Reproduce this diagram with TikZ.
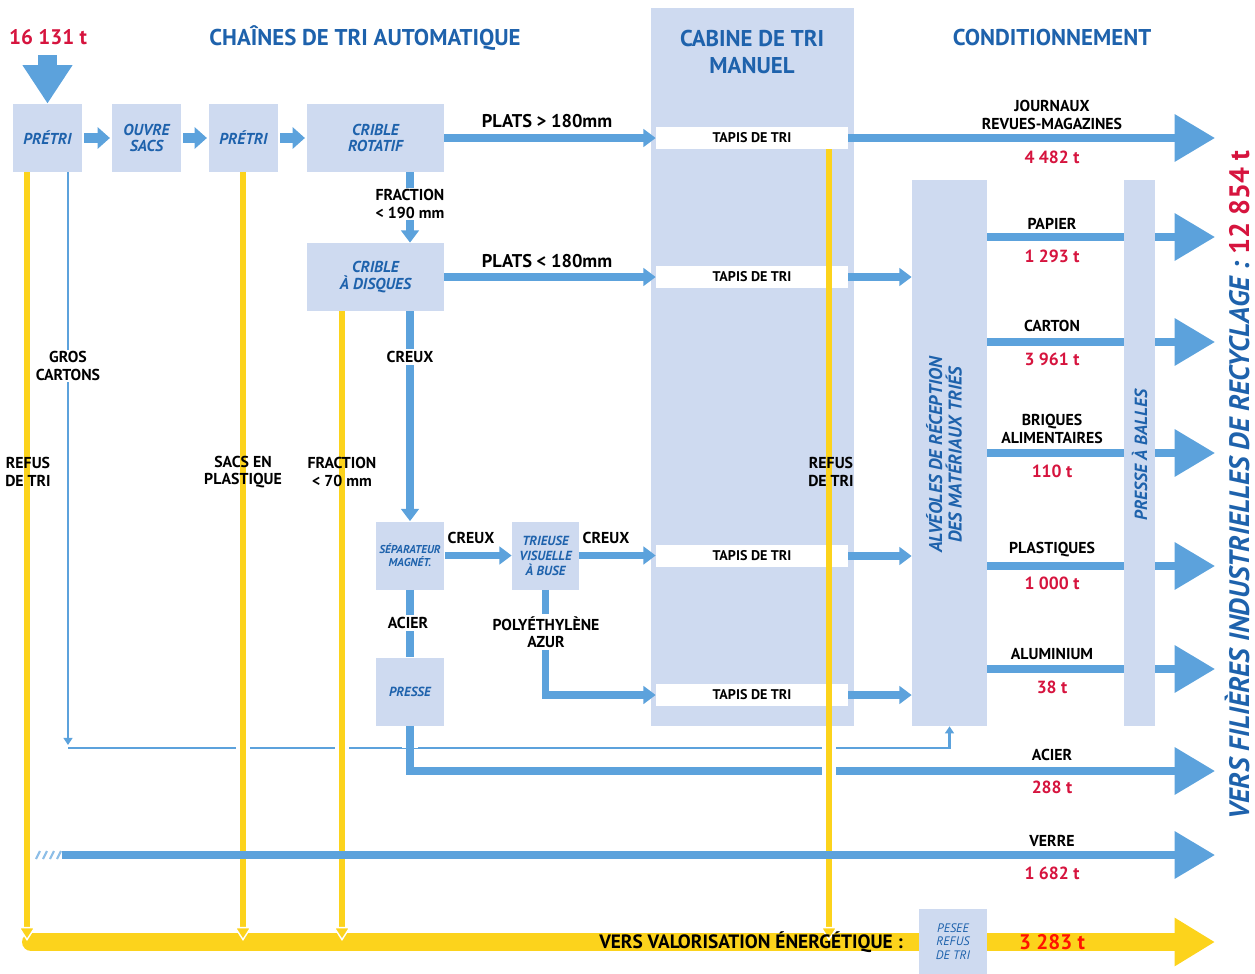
\documentclass[tikz,border=0pt]{standalone}
\usepackage{fontspec}
\setmainfont{PT Sans}
\usepackage{xcolor}
\usepackage{tikz}
\usetikzlibrary{arrows.meta,positioning}

\definecolor{boxblue}{RGB}{206,218,240}
\definecolor{flowblue}{RGB}{92,162,220}
\definecolor{textblue}{RGB}{30,98,172}
\definecolor{qtyred}{RGB}{214,20,62}
\definecolor{refusyellow}{RGB}{252,211,28}

\begin{document}
\begin{tikzpicture}[x=0.02cm, y=-0.02cm,
    box/.style={fill=boxblue, inner sep=1pt, text=textblue, align=center, font=\bfseries\itshape\fontsize{9}{9.5}\selectfont},
    smallbox/.style={box, minimum width=1.38cm, minimum height=1.36cm},
    widebox/.style={box, minimum width=2.74cm, minimum height=1.36cm},
    tapis/.style={fill=white, minimum width=3.84cm, minimum height=0.44cm, inner sep=0pt, font=\bfseries\fontsize{8}{9}\selectfont},
    lbl/.style={font=\bfseries\fontsize{9}{10}\selectfont, align=center, inner sep=1pt},
    cut/.style={lbl, fill=white},
    qty/.style={font=\bfseries\fontsize{10}{11}\selectfont, text=qtyred},
    head/.style={font=\bfseries\fontsize{13}{15}\selectfont, text=textblue, align=center},
    blockflow/.style={draw=flowblue, line width=5.5pt, -{Triangle[width=12pt,length=7pt]}, shorten <=1pt, shorten >=1pt},
    flow/.style={draw=flowblue, line width=4pt, -{Triangle[width=10pt,length=7pt]}},
    flowline/.style={draw=flowblue, line width=4.5pt},
    bigflow/.style={draw=flowblue, line width=4.5pt, -{Triangle[width=26pt,length=23pt]}},
    thinflow/.style={draw=flowblue, line width=1.6pt, -{Triangle[width=5pt,length=4pt]}},
    refus/.style={draw=refusyellow, line width=3.4pt, -{Triangle[width=10pt,length=8pt,color=white,fill=refusyellow,line width=0.8pt]}},
    casing/.style={draw=white, line width=7.5pt},
]
    \useasboundingbox (0,0) rectangle (1255,974);

    % Headers
    \node[font=\bfseries\fontsize{12}{14}\selectfont, text=qtyred] (entree) at (48,37) {16 131 t};
    \node[head] (chaines) at (365,38) {CHAÎNES DE TRI AUTOMATIQUE};
    \node[head] (condit) at (1052,38) {CONDITIONNEMENT};

    % Cabine
    \node[fill=boxblue, minimum width=4.06cm, minimum height=14.36cm, inner sep=0pt] (cabine) at (752.5,367) {};
    \node[head] (cabinetitle) at (752,52) {CABINE DE TRI\\MANUEL};
    \node[tapis] (tapis1) at (752,138) {TAPIS DE TRI};
    \node[tapis] (tapis2) at (752,277) {TAPIS DE TRI};
    \node[tapis] (tapis3) at (752,556) {TAPIS DE TRI};
    \node[tapis] (tapis4) at (752,695) {TAPIS DE TRI};

    % Chaines de tri
    \node[smallbox] (pretri1) at (47.5,138) {PRÉTRI};
    \node[smallbox] (ouvre) at (146.5,138) {OUVRE\\SACS};
    \node[smallbox] (pretri2) at (243.5,138) {PRÉTRI};
    \node[widebox] (rotatif) at (375.5,138) {CRIBLE\\ROTATIF};
    \node[widebox] (disques) at (375.5,277) {CRIBLE\\À DISQUES};
    \node[smallbox, font=\bfseries\itshape\fontsize{6.5}{7.5}\selectfont] (separ) at (410,555.5) {SÉPARATEUR\\MAGNÉT.};
    \node[smallbox, minimum width=1.34cm, font=\bfseries\itshape\fontsize{7.5}{8.5}\selectfont] (trieuse) at (545.5,555.5) {TRIEUSE\\VISUELLE\\À BUSE};
    \node[smallbox, font=\bfseries\itshape\fontsize{7.5}{8.5}\selectfont] (presse) at (410,691.5) {PRESSE};

    % Conditionnement
    \node[fill=boxblue, minimum width=1.5cm, minimum height=10.92cm, inner sep=0pt] (alveoles) at (949.5,453) {};
    \node[rotate=90, font=\bfseries\itshape\fontsize{10.5}{11}\selectfont, text=textblue, align=center] (alvtext) at (944,455) {ALVÉOLES DE RÉCEPTION\\DES MATÉRIAUX TRIÉS};
    \node[fill=boxblue, minimum width=0.62cm, minimum height=10.92cm, inner sep=0pt] (balles) at (1139.5,453) {};
    \node[rotate=90, font=\bfseries\itshape\fontsize{10}{11}\selectfont, text=textblue] (ballestext) at (1139.5,455) {PRESSE À BALLES};

    % Entree
    \coordinate (instart) at (47.5,55);
    \draw[draw=flowblue, line width=11pt, -{Triangle[width=27pt,length=22pt]}] (instart) -- (pretri1.north);

    % Arrows of the chains
    \draw[blockflow] (pretri1) -- (ouvre);
    \draw[blockflow] (ouvre) -- (pretri2);
    \draw[blockflow] (pretri2) -- (rotatif);
    \draw[flow] (rotatif.east) -- (tapis1.west);
    \node[lbl, font=\bfseries\fontsize{10.5}{12}\selectfont] (plats1) at (547,121) {PLATS > 180mm};
    \draw[flow] (rotatif.south -| separ.north) -- (disques.north -| separ.north);
    \node[cut] (fr190) at (410,204) {FRACTION\\< 190 mm};
    \draw[flow] (disques.east) -- (tapis2.west);
    \node[lbl, font=\bfseries\fontsize{10.5}{12}\selectfont] (plats2) at (547,261) {PLATS < 180mm};
    \draw[flow] (disques.south -| separ.north) -- (separ.north);
    \node[cut] (creux1) at (410,357) {CREUX};
    \draw[flow] (separ.east) -- (trieuse.west);
    \node[lbl] (creux2) at (471,538) {CREUX};
    \draw[flow] (trieuse.east) -- (trieuse.east -| tapis3.west);
    \node[lbl] (creux3) at (606,538) {CREUX};
    \draw[flowline] (separ.south) -- (presse.north);
    \node[cut] (acier1) at (408,623) {ACIER};
    \draw[flow] (trieuse.south) -- (trieuse.south |- tapis4.west) -- (tapis4.west);
    \node[cut] (polyeth) at (546,632) {POLYÉTHYLÈNE\\AZUR};

    % Cabine to alveoles
    \draw[flow] (tapis2.east) -- (alveoles.west |- tapis2.east);
    \draw[flow] (tapis3.east) -- (alveoles.west |- tapis3.east);
    \draw[flow] (tapis4.east) -- (alveoles.west |- tapis4.east);

    % Journaux
    \coordinate (jrnend) at (1215,138);
    \draw[bigflow] (tapis1.east) -- (jrnend);
    \node[lbl] (journaux) at (1052,115) {JOURNAUX\\REVUES-MAGAZINES};
    \node[qty] (journauxqty) at (1052,157) {4 482 t};

    % Papier
    \coordinate (papend) at (1215,237);
    \draw[flowline] (alveoles.east |- papend) -- (balles.west |- papend);
    \draw[bigflow] (balles.east |- papend) -- (papend);
    \node[lbl] (papier) at (1052,224) {PAPIER};
    \node[qty] (papierqty) at (1052,256) {1 293 t};

    % Carton
    \coordinate (carend) at (1215,342);
    \draw[flowline] (alveoles.east |- carend) -- (balles.west |- carend);
    \draw[bigflow] (balles.east |- carend) -- (carend);
    \node[lbl] (carton) at (1052,326) {CARTON};
    \node[qty] (cartonqty) at (1052,359) {3 961 t};

    % Briques
    \coordinate (briend) at (1215,453);
    \draw[flowline] (alveoles.east |- briend) -- (balles.west |- briend);
    \draw[bigflow] (balles.east |- briend) -- (briend);
    \node[lbl] (briques) at (1052,429) {BRIQUES\\ALIMENTAIRES};
    \node[qty] (briquesqty) at (1052,471) {110 t};

    % Plastiques
    \coordinate (plaend) at (1215,566);
    \draw[flowline] (alveoles.east |- plaend) -- (balles.west |- plaend);
    \draw[bigflow] (balles.east |- plaend) -- (plaend);
    \node[lbl] (plastiques) at (1052,550) {PLASTIQUES};
    \node[qty] (plastiquesqty) at (1052,583) {1 000 t};

    % Aluminium
    \coordinate (aluend) at (1215,669);
    \draw[flowline] (alveoles.east |- aluend) -- (balles.west |- aluend);
    \draw[bigflow] (balles.east |- aluend) -- (aluend);
    \node[lbl] (alu) at (1052,654) {ALUMINIUM};
    \node[qty] (aluqty) at (1052,687) {38 t};

    % Gros cartons
    \coordinate (gc) at (68,745);
    \coordinate (gcturn) at (68,748);
    \draw[thinflow] (pretri1.south -| gc) -- (gc);
    \draw[thinflow] (gcturn) -- (gcturn -| alveoles.south) -- (alveoles.south);
    \node[cut] (groscartons) at (68,366) {GROS\\CARTONS};

    % Acier
    \coordinate (acierend) at (1215,771);
    \draw[casing, line width=9pt] (presse.south) -- (presse.south |- gcturn);
    \draw[bigflow] (presse.south) -- (presse.south |- acierend) -- (acierend);
    \node[lbl] (acier2) at (1052,755) {ACIER};
    \node[qty] (acierqty) at (1052,787) {288 t};

    % Refus de tri
    \coordinate (y1) at (27,941);
    \coordinate (y2) at (243,941);
    \coordinate (y3) at (342,941);
    \coordinate (y4) at (829,941);
    \draw[casing] (243,738) -- (243,758);
    \draw[casing] (342,738) -- (342,758);
    \draw[casing] (829,738) -- (829,782);
    \coordinate (barstart) at (31,942);
    \coordinate (barend) at (1215,942);
    \draw[draw=refusyellow, line width=10.2pt, line cap=round, -{Triangle[width=26pt,length=23pt]}] (barstart) -- (barend);
    \draw[refus] (pretri1.south -| y1) -- (y1);
    \draw[refus] (pretri2.south -| y2) -- (y2);
    \draw[refus] (disques.south -| y3) -- (y3);
    \draw[refus] (tapis1.south -| y4) -- (y4);
    \node[lbl] (refus1) at (28,472) {REFUS\\DE TRI};
    \node[lbl] (sacs) at (243,472) {SACS EN\\PLASTIQUE};
    \node[lbl] (fr70) at (342,472) {FRACTION\\< 70 mm};
    \node[lbl] (refus2) at (831,472) {REFUS\\DE TRI};

    % Verre
    \coordinate (verrestart) at (62,855);
    \coordinate (verreend) at (1215,855);
    \draw[flowblue!70, line width=1.2pt] (36,859) -- (40,851) (43,859) -- (47,851) (50,859) -- (54,851) (57,859) -- (61,851);
    \draw[bigflow] (verrestart) -- (verreend);
    \node[lbl] (verre) at (1052,841) {VERRE};
    \node[qty] (verreqty) at (1052,873) {1 682 t};

    % Valorisation
    \node[lbl, anchor=east, font=\bfseries\fontsize{11}{12}\selectfont] (valo) at (905,942) {VERS VALORISATION ÉNERGÉTIQUE :};
    \node[box, minimum width=1.36cm, minimum height=1.3cm, font=\itshape\fontsize{7}{7.5}\selectfont] (pesee) at (953,941.5) {PESEE\\REFUS\\DE TRI};
    \node[qty, font=\bfseries\fontsize{12}{13}\selectfont, text=red!85!orange] (valoqty) at (1052,942) {3 283 t};

    % Filieres
    \node[rotate=90, font=\bfseries\itshape\fontsize{16}{18}\selectfont, text=textblue] (filieres) at (1237,485) {VERS FILIÈRES INDUSTRIELLES DE RECYCLAGE : \textcolor{qtyred}{\upshape 12 854 t}};
\end{tikzpicture}
\end{document}
